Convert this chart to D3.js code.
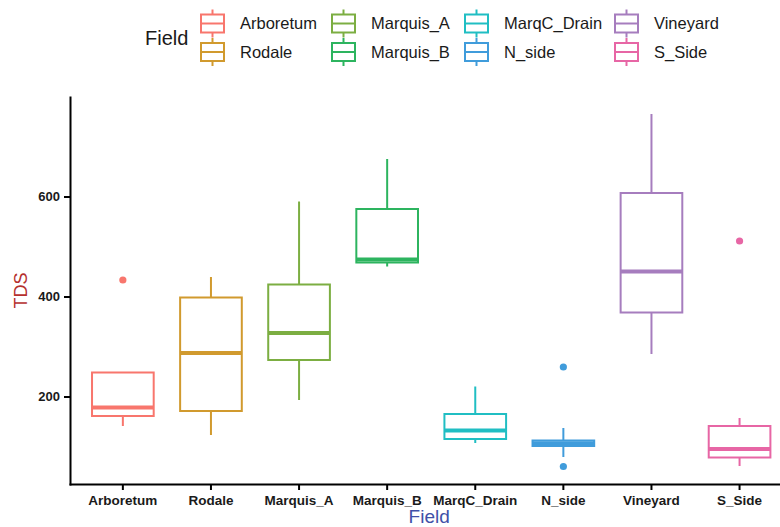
<!DOCTYPE html>
<html>
<head>
<meta charset="utf-8">
<script src="https://cdn.jsdelivr.net/npm/d3@7"></script>
<style>
  html, body { margin: 0; padding: 0; background: #fff; overflow: hidden; }
  svg { display: block; font-family: "Liberation Sans", Arial, sans-serif; }
</style>
</head>
<body>
<svg id="chart" width="780" height="527"></svg>
<script>
// ---- data ----
const fields = ["Arboretum", "Rodale", "Marquis_A", "Marquis_B", "MarqC_Drain", "N_side", "Vineyard", "S_Side"];
const lowerWhisker = [141, 123, 193, 460, 107, 79, 285, 61];
const q1Values     = [161, 171, 273, 468, 115, 101, 368, 78];
const medianValues = [178, 287, 327, 474, 132, 106.5, 450, 95];
const q3Values     = [248, 398, 424, 575, 165, 112, 607, 141];
const upperWhisker = [248, 439, 590, 675, 220, 137, 765, 157];
const outliers     = [[433], [], [], [], [], [259, 60], [], [511]];
const colors = ["#F8766D", "#D19A2E", "#7CAE42", "#2DB45F", "#20BEC3", "#409CDB", "#A67DBE", "#E766A5"];
const yTicks = [200, 400, 600];

// ---- layout ----
const svg = d3.select("#chart");
const plotLeft = 70, plotTop = 97, plotBottom = 484;
const stepPx = 88.1;
const x = d3.scaleBand().domain(fields).range([plotLeft, plotLeft + 8.2 * stepPx]).paddingInner(0).paddingOuter(0.1);
const y = d3.scaleLinear().domain([25, 799]).range([plotBottom, plotTop]);
const color = d3.scaleOrdinal().domain(fields).range(colors);
const boxW = x.step() * 0.70;

const data = fields.map((f, i) => ({
  field: f, lo: lowerWhisker[i], q1: q1Values[i], med: medianValues[i],
  q3: q3Values[i], hi: upperWhisker[i], out: outliers[i]
}));

// ---- boxes ----
const g = svg.append("g");
const box = g.selectAll("g.box").data(data).join("g").attr("class", "box");
box.each(function(d) {
  const s = d3.select(this);
  const cx = x(d.field) + x.bandwidth() / 2;
  const c = color(d.field);
  s.append("line").attr("x1", cx).attr("x2", cx).attr("y1", y(d.q3)).attr("y2", y(d.hi))
    .attr("stroke", c).attr("stroke-width", 2);
  s.append("line").attr("x1", cx).attr("x2", cx).attr("y1", y(d.q1)).attr("y2", y(d.lo))
    .attr("stroke", c).attr("stroke-width", 2);
  s.append("rect").attr("x", cx - boxW / 2).attr("width", boxW)
    .attr("y", y(d.q3)).attr("height", y(d.q1) - y(d.q3))
    .attr("fill", "#fff").attr("stroke", c).attr("stroke-width", 2);
  s.append("line").attr("x1", cx - boxW / 2).attr("x2", cx + boxW / 2)
    .attr("y1", y(d.med)).attr("y2", y(d.med))
    .attr("stroke", c).attr("stroke-width", 4);
  s.selectAll("circle").data(d.out).join("circle")
    .attr("cx", cx).attr("cy", v => y(v)).attr("r", 3.6).attr("fill", c);
});

// ---- axes ----
const yAxis = svg.append("g").attr("transform", `translate(${plotLeft},0)`)
  .call(d3.axisLeft(y).tickValues(yTicks).tickSize(6).tickSizeOuter(0).tickPadding(4));
const xAxis = svg.append("g").attr("transform", `translate(0,${plotBottom})`)
  .call(d3.axisBottom(x).tickSize(6).tickSizeOuter(0).tickPadding(5));
[yAxis, xAxis].forEach(a => {
  a.select(".domain").attr("stroke", "#000").attr("stroke-width", 2).attr("stroke-linecap", "square");
  a.selectAll(".tick line").attr("stroke", "#000").attr("stroke-width", 2);
  a.selectAll(".tick text").attr("fill", "#1a1a1a").attr("font-weight", "bold")
    .attr("font-size", 13).attr("font-family", "Liberation Sans, Arial, sans-serif");
});
xAxis.selectAll(".tick text").attr("font-size", 13.5);

// axis titles
svg.append("text").attr("x", plotLeft + (x.range()[1] - plotLeft) / 2 - 2).attr("y", 523)
  .attr("text-anchor", "middle").attr("font-size", 19).attr("fill", "#4050A8").text("Field");
svg.append("text").attr("transform", `translate(27,${(plotTop + plotBottom) / 2}) rotate(-90)`)
  .attr("text-anchor", "middle").attr("font-size", 18).attr("fill", "#B5302E").text("TDS");

// ---- legend ----
const leg = svg.append("g");
leg.append("text").attr("x", 145).attr("y", 45).attr("font-size", 20).attr("fill", "#1a1a1a").text("Field");
const colX = [201, 332, 465, 615];
const rowY = [23.5, 52];
fields.forEach((f, i) => {
  const c = color(f);
  const kx = colX[Math.floor(i / 2)], cy = rowY[i % 2];
  const kw = 23, kh = 18;
  const lg = leg.append("g");
  lg.append("line").attr("x1", kx + kw / 2).attr("x2", kx + kw / 2).attr("y1", cy - 14).attr("y2", cy + 14)
    .attr("stroke", c).attr("stroke-width", 2);
  lg.append("rect").attr("x", kx).attr("y", cy - kh / 2).attr("width", kw).attr("height", kh)
    .attr("fill", "#fff").attr("stroke", c).attr("stroke-width", 2);
  lg.append("line").attr("x1", kx).attr("x2", kx + kw).attr("y1", cy).attr("y2", cy)
    .attr("stroke", c).attr("stroke-width", 2);
  lg.append("text").attr("x", kx + kw + 16).attr("y", cy).attr("dy", "0.36em")
    .attr("font-size", 16.5).attr("fill", "#1a1a1a").text(f);
});
</script>
</body>
</html>
